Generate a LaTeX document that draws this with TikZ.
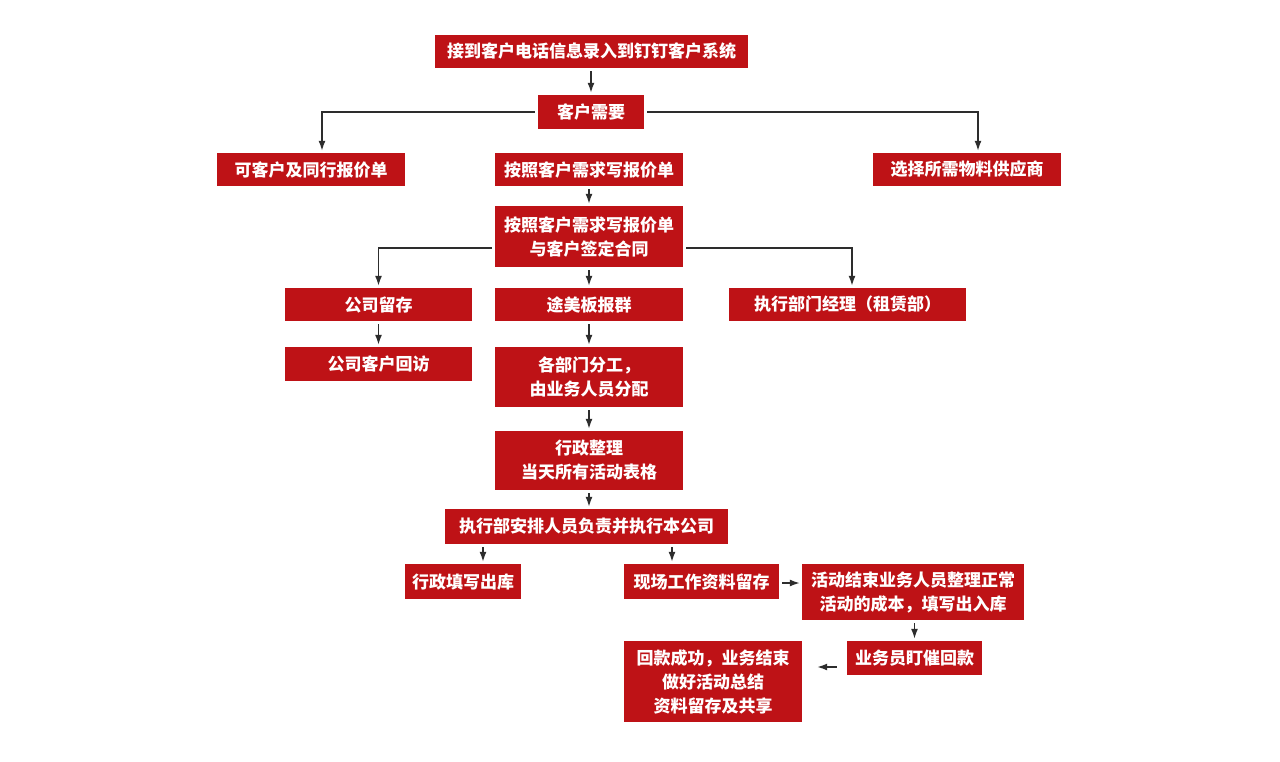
\documentclass[tikz,border=0pt]{standalone}
\usepackage{fontspec}
\setmainfont{Noto Sans CJK SC}
\usetikzlibrary{arrows.meta}
\definecolor{boxred}{RGB}{190,18,22}
\definecolor{linegray}{RGB}{45,45,45}
\begin{document}
\begin{tikzpicture}[x=1pt,y=-1pt,
  box/.style={fill=boxred, draw=none, text=white, font=\bfseries\fontsize{17}{24}\selectfont, align=center, inner sep=0pt},
  conn/.style={draw=linegray, line width=1.5pt, -{Latex[length=10pt,width=7pt]}, shorten >=2pt, shorten <=3pt}]
\fill[white] (0,0) rectangle (1280,761);
\useasboundingbox (0,0) rectangle (1280,761);

\node[box, minimum width=313, minimum height=33] (b1) at (591.5,51.5) {接到客户电话信息录入到钉钉客户系统};
\node[box, minimum width=106, minimum height=34] (b2) at (591,112) {客户需要};
\node[box, minimum width=188, minimum height=33] (b3) at (311,169.5) {可客户及同行报价单};
\node[box, minimum width=188, minimum height=33] (b4) at (589,169.5) {按照客户需求写报价单};
\node[box, minimum width=188, minimum height=33] (b5) at (967,169.5) {选择所需物料供应商};
\node[box, minimum width=188, minimum height=61] (b6) at (589,236.5) {按照客户需求写报价单\\与客户签定合同};
\node[box, minimum width=187, minimum height=33] (b7) at (378.5,304.5) {公司留存};
\node[box, minimum width=188, minimum height=33] (b8) at (589,304.5) {途美板报群};
\node[box, minimum width=237, minimum height=33] (b9) at (847.5,304.5) {执行部门经理（租赁部）};
\node[box, minimum width=187, minimum height=34] (b10) at (378.5,364) {公司客户回访};
\node[box, minimum width=188, minimum height=60] (b11) at (589,377) {各部门分工，\\由业务人员分配};
\node[box, minimum width=188, minimum height=59] (b12) at (589,460.5) {行政整理\\当天所有活动表格};
\node[box, minimum width=283, minimum height=35] (b13) at (586.5,526.5) {执行部安排人员负责并执行本公司};
\node[box, minimum width=116, minimum height=35] (b14) at (463,581.5) {行政填写出库};
\node[box, minimum width=155, minimum height=35] (b15) at (701.5,581.5) {现场工作资料留存};
\node[box, minimum width=222, minimum height=56] (b16) at (913,592) {活动结束业务人员整理正常\\活动的成本，填写出入库};
\node[box, minimum width=135, minimum height=34] (b17) at (914.5,658) {业务员盯催回款};
\node[box, minimum width=178, minimum height=81] (b18) at (713,681.5) {回款成功，业务结束\\做好活动总结\\资料留存及共享};

\draw[conn] (b1.south -| b2.north) -- (b2.north);
\draw[conn] (b2.west) -| ([xshift=11pt]b3.north);
\draw[conn] (b2.east) -| ([xshift=11pt]b5.north);
\draw[conn] (b4.south) -- (b6.north);
\draw[conn] ([yshift=-11.5pt]b6.west) -| (b7.north);
\draw[conn] ([yshift=-11.5pt]b6.east) -| ([xshift=4.5pt]b9.north);
\draw[conn] (b6.south) -- (b8.north);
\draw[conn] (b7.south) -- (b10.north);
\draw[conn] (b8.south) -- (b11.north);
\draw[conn] (b11.south) -- (b12.north);
\draw[conn] (b12.south) -- (b12.south |- b13.north);
\coordinate (c14) at ([xshift=20pt]b14.north);
\draw[conn] (b13.south -| c14) -- (c14);
\coordinate (c15) at ([xshift=-29.5pt]b15.north);
\draw[conn] (b13.south -| c15) -- (c15);
\draw[conn] ([yshift=-1.5pt]b15.east) -- ([yshift=-1.5pt]b15.east -| b16.west);
\draw[conn] (b16.south -| b17.north) -- (b17.north);
\coordinate (c17) at ([yshift=-9pt]b17.west);
\draw[conn, shorten <=10pt, shorten >=15pt] (c17) -- (c17 -| b18.east);
\end{tikzpicture}
\end{document}
